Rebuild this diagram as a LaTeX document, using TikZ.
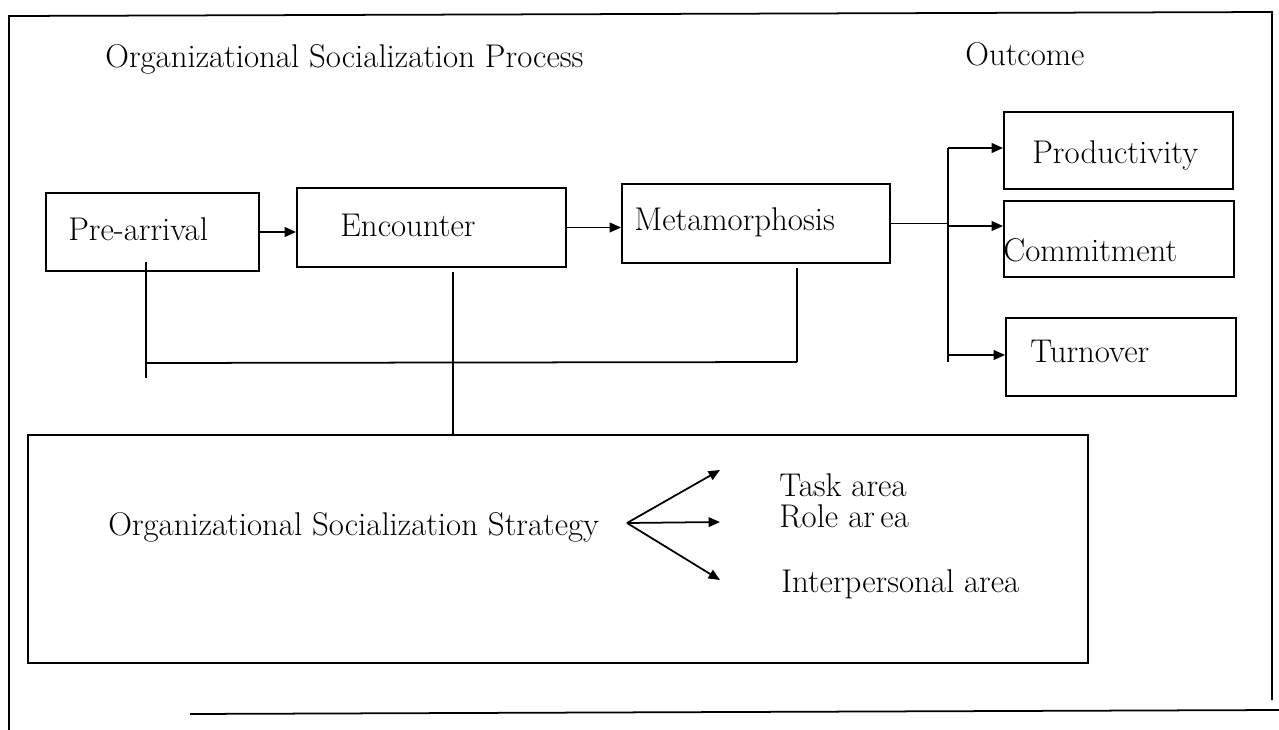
\documentclass[tikz,border=0pt]{standalone}
\usetikzlibrary{arrows.meta,calc}
\begin{document}
\begin{tikzpicture}[x=0.02cm,y=-0.02cm,
  box/.style={draw,line width=1pt,inner sep=0pt,rectangle},
  wh/.style 2 args={minimum width=#1*0.02cm,minimum height=#2*0.02cm},
  lbl/.style={font=\fontsize{18.7}{22}\selectfont,inner sep=0pt,anchor=base west},
  ln/.style={line width=1pt},
  arr/.style={line width=1pt,-{Triangle[length=6.5pt,width=5.5pt]}}]
\useasboundingbox (0,0) rectangle (1279,730);
% outer frame
\draw[ln] (9,730) -- (9,16) -- (1272,12) -- (1272,700);
\draw[ln] (190,714) -- (1279,710);
% headings
\node[lbl] (title) at (105,68) {Organizational Socialization Process};
\node[lbl] (outc) at (965,65) {Outcome};
% boxes
\node[box,wh={213}{78}] (pre) at (152.5,232) {};
\node[box,wh={269}{79}] (enc) at (431.5,227.5) {};
\node[box,wh={268}{79}] (meta) at (756,223.5) {};
\node[box,wh={229}{77}] (prod) at (1118.5,150.5) {};
\node[box,wh={230}{76}] (com) at (1119,239) {};
\node[box,wh={230}{78}] (turn) at (1121,357) {};
\node[box,wh={1060}{228}] (strat) at (558,549) {};
% labels
\node[lbl] (pret) at (68,240) {Pre-arrival};
\node[lbl] (enct) at (340,236) {Encounter};
\node[lbl] (metat) at (634,230) {Metamorphosis};
\node[lbl] (prodt) at (1032,163) {Productivity};
\node[lbl] (comt) at (1003,261) {Commitment};
\node[lbl] (turnt) at (1030,362) {Turnover};
\node[lbl] (stratt) at (108,535) {Organizational Socialization Strategy};
\node[lbl] (task) at (779,496) {Task area};
\node[lbl] (role) at (779,527) {Role ar\,ea};
\node[lbl] (inter) at (781,592) {Interpersonal area};
% process arrows
\draw[arr] (pre.east) -- (pre.east -| enc.west);
\draw[arr] (enc.east) -- (enc.east -| meta.west);
% outcome branching
\coordinate (j) at (948,218);
\coordinate (jt) at (948,148);
\coordinate (jm) at (948,226);
\coordinate (jb) at (948,355);
\coordinate (jbe) at (948,362);
\draw[ln] (meta.east) -- (meta.east -| j);
\draw[ln] (jt) -- (jbe);
\draw[arr] (jt) -- (jt -| prod.west);
\draw[arr] (jm) -- (jm -| com.west);
\draw[arr] (jb) -- (jb -| turn.west);
% bracket under process
\coordinate (b1) at (146,262);
\coordinate (b2) at (146,378);
\coordinate (b3) at (146,363);
\coordinate (b4) at (797,362);
\coordinate (b5) at (797,268);
\draw[ln] (b1) -- (b2);
\draw[ln] (b3) -- (b4);
\draw[ln] (b5) -- (b4);
\coordinate (c1) at (453,272);
\draw[ln] (c1) -- (c1 |- strat.north);
% strategy fan
\coordinate (f0) at (627,523);
\coordinate (f1) at (720,470);
\coordinate (f2) at (720,522);
\coordinate (f3) at (720,580);
\draw[arr] (f0) -- (f1);
\draw[arr] (f0) -- (f2);
\draw[arr] (f0) -- (f3);
\end{tikzpicture}
\end{document}
